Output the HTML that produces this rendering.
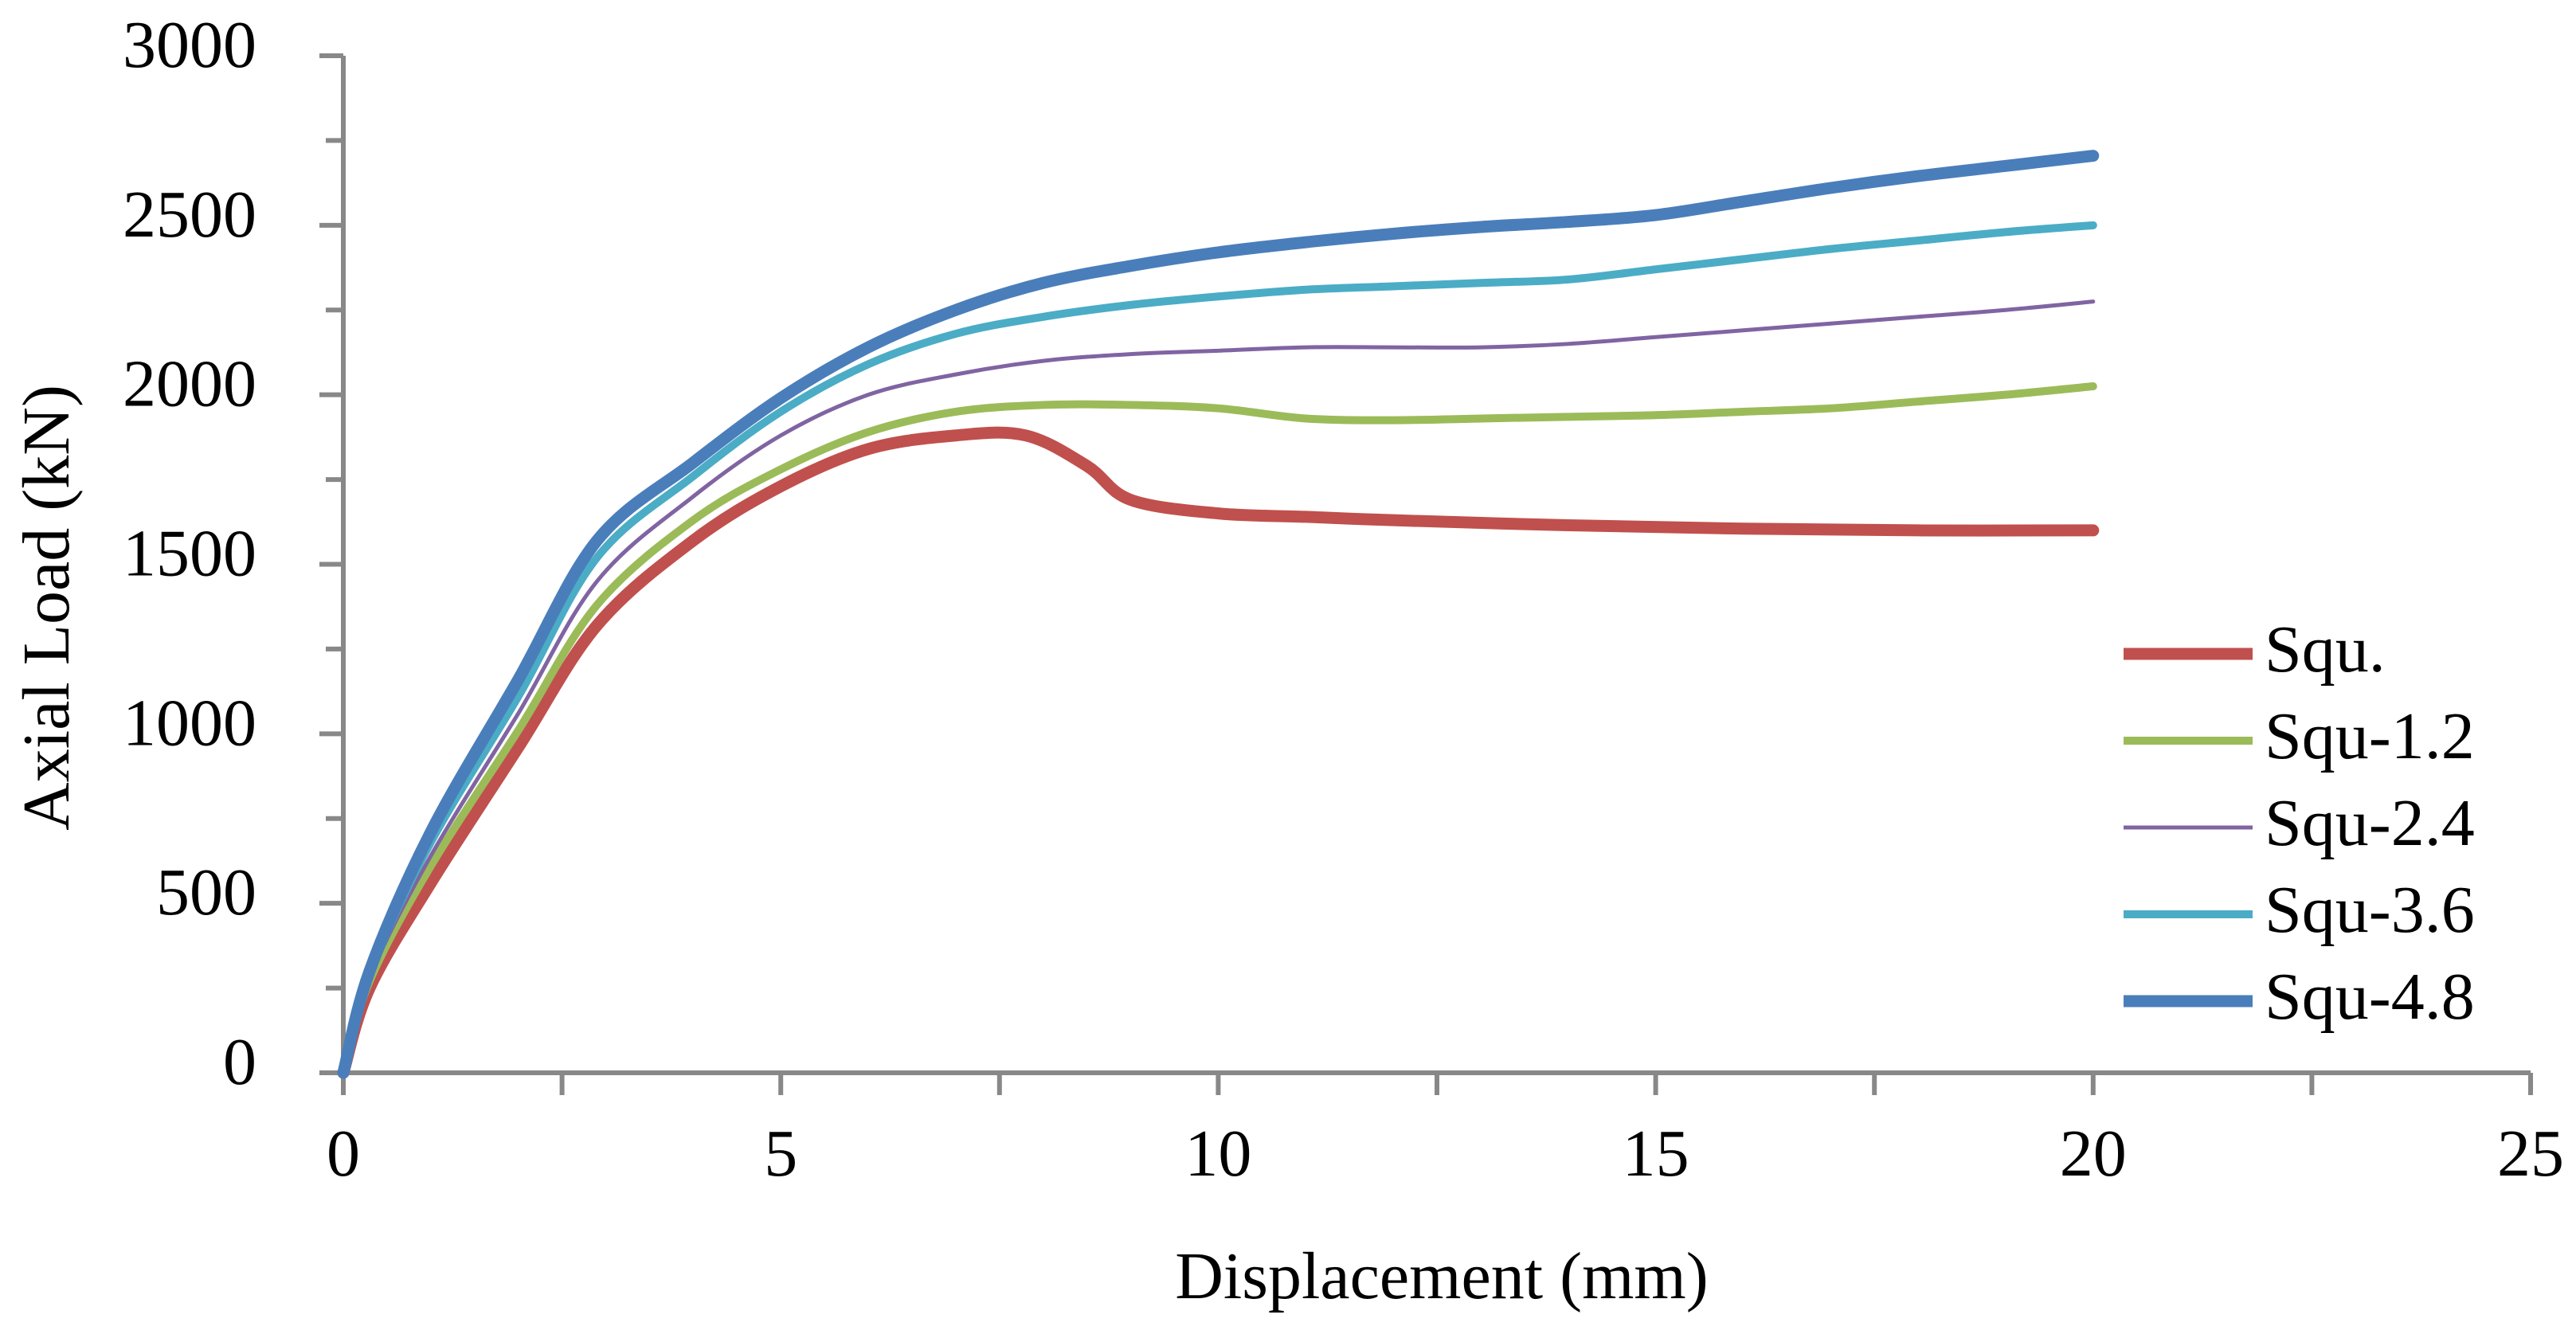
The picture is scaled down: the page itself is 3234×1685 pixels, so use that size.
<!DOCTYPE html>
<html><head><meta charset="utf-8"><style>
html,body{margin:0;padding:0;background:#fff;}
svg text{font-family:"Liberation Serif",serif;fill:#000;}
</style></head><body>
<svg id="chart" width="3234" height="1680" xmlns="http://www.w3.org/2000/svg">
<g id="axes"></g>
<g id="series"></g>
<g id="legend"></g>
<text x="1810" y="1630" font-size="84" text-anchor="middle">Displacement (mm)</text>
<text transform="translate(86,763) rotate(-90)" font-size="84" text-anchor="middle">Axial Load (kN)</text>
</svg>
<script>
const xTicks = [0,5,10,15,20,25];
const yTicks = [0,500,1000,1500,2000,2500,3000];
const seriesNames = ["Squ.","Squ-1.2","Squ-2.4","Squ-3.6","Squ-4.8"];
const redX = [0,0.3,1,2,2.9,4,5,6,7,7.8,8.5,9,10,11,12,14,16,18,20];
const redY = [0,250,560,960,1320,1570,1730,1840,1880,1880,1790,1690,1650,1640,1630,1615,1605,1600,1600];
const commonX = [0,0.3,1,2,2.9,4,5,6,7,8,9,10,11,12,13,14,15,16,17,18,19,20];
const greenY = [0,270,610,1010,1380,1630,1780,1890,1950,1970,1970,1960,1930,1925,1930,1935,1940,1950,1960,1980,2000,2025];
const purpleY = [0,280,640,1060,1450,1700,1880,2000,2060,2100,2120,2130,2140,2140,2140,2150,2170,2190,2210,2230,2250,2275];
const cyanY = [0,290,680,1110,1520,1760,1950,2090,2180,2230,2265,2290,2310,2320,2330,2340,2370,2400,2430,2455,2480,2500];
const blueY = [0,300,710,1160,1570,1800,1990,2140,2250,2330,2380,2420,2450,2475,2495,2510,2530,2570,2610,2645,2675,2705];

const X0=431,X1=3177,Y0=1347,Y1=70;
const xs=v=>X0+(X1-X0)*v/25;
const ys=v=>Y0-(Y0-Y1)*v/3000;
const NS="http://www.w3.org/2000/svg";
function mk(tag,attrs,parent){const e=document.createElementNS(NS,tag);for(const k in attrs)e.setAttribute(k,attrs[k]);parent.appendChild(e);return e;}
const axes=document.getElementById('axes');
const ax=mk('path',{d:`M${X0},${Y1} L${X0},${Y0} L${X1},${Y0}`,stroke:'#888',"stroke-width":6,fill:'none'},axes);


for(let v=0;v<=3000;v+=250){
  const t=mk('line',{x1:X0-(v%500===0?30:22),x2:X0,y1:ys(v),y2:ys(v),stroke:'#888',"stroke-width":6},axes);
  
  
}
yTicks.forEach(v=>{
  const t=mk('text',{x:322,y:ys(v)+14,"font-size":84,"text-anchor":"end"},axes);t.textContent=v;
  
  
});
for(let v=0;v<=25;v+=2.5){
  const t=mk('line',{x1:xs(v),x2:xs(v),y1:Y0,y2:Y0+28,stroke:'#888',"stroke-width":6},axes);
  
  
}
xTicks.forEach(v=>{
  const t=mk('text',{x:xs(v),y:1476,"font-size":84,"text-anchor":"middle"},axes);t.textContent=v;
  
  
});
function smooth(xa,ya){
  const p=xa.map((x,i)=>[xs(x),ys(ya[i])]);
  let d=`M${p[0][0]},${p[0][1]}`;
  for(let i=0;i<p.length-1;i++){
    const p0=p[i-1]||p[i],p1=p[i],p2=p[i+1],p3=p[i+2]||p[i+1];
    const c1=[p1[0]+(p2[0]-p0[0])/6,p1[1]+(p2[1]-p0[1])/6];
    const c2=[p2[0]-(p3[0]-p1[0])/6,p2[1]-(p3[1]-p1[1])/6];
    d+=` C${c1[0]},${c1[1]} ${c2[0]},${c2[1]} ${p2[0]},${p2[1]}`;
  }
  return d;
}
const defs=[
 {x:redX,y:redY,c:'#c0504d',w:15,n:'series-squ'},
 {x:commonX,y:greenY,c:'#9bbb59',w:10,n:'series-squ-1-2'},
 {x:commonX,y:purpleY,c:'#8064a2',w:5,n:'series-squ-2-4'},
 {x:commonX,y:cyanY,c:'#4bacc6',w:10,n:'series-squ-3-6'},
 {x:commonX,y:blueY,c:'#4a7ebb',w:15,n:'series-squ-4-8'}
];
const sg=document.getElementById('series'), lg=document.getElementById('legend');
defs.forEach((s,i)=>{
  const p=mk('path',{d:smooth(s.x,s.y),stroke:s.c,"stroke-width":s.w,fill:'none',"stroke-linejoin":"round","stroke-linecap":"round"},sg);
  
  
  const ly=821+i*109;
  const l=mk('line',{x1:2666,x2:2828,y1:ly,y2:ly,stroke:s.c,"stroke-width":s.w},lg);
  
  
  const t=mk('text',{x:2843,y:ly+22,"font-size":84},lg);t.textContent=seriesNames[i];
  
  
});
</script>
</body></html>
